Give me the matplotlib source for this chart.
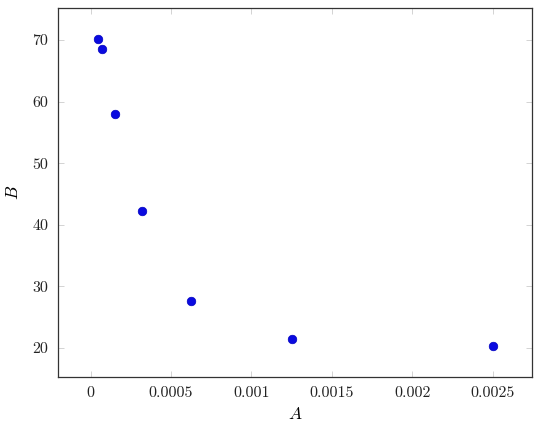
import matplotlib
matplotlib.use("Agg")
import matplotlib.pyplot as plt

A = [0.000043, 0.000073, 0.00015, 0.00032, 0.000627, 0.00125, 0.0025]
B = [70.2, 68.5, 58.0, 42.2, 27.6, 21.4, 20.3]
xticks = [0, 0.0005, 0.001, 0.0015, 0.002, 0.0025]
xticklabels = ["0", "0.0005", "0.001", "0.0015", "0.002", "0.0025"]
yticks = [20, 30, 40, 50, 60, 70]
yticklabels = ["20", "30", "40", "50", "60", "70"]

plt.rcParams['font.family'] = 'serif'
plt.rcParams['font.serif'] = ['cmr10', 'DejaVu Serif']
plt.rcParams['mathtext.fontset'] = 'cm'
plt.rcParams['axes.unicode_minus'] = False

fig = plt.figure(figsize=(5.4, 4.28), dpi=100)
ax = fig.add_axes([58/540, 51/428, 474/540, 369/428])
ax.scatter(A, B, s=38, color='#0a0ae0', edgecolors='#0000c0', linewidths=0.5, zorder=3)
ax.set_xlim(-0.000203, 0.002745)
ax.set_ylim(15.3, 75.2)
ax.set_xticks(xticks)
ax.set_xticklabels(xticklabels)
ax.set_yticks(yticks)
ax.set_yticklabels(yticklabels)
ax.tick_params(direction='in', top=True, right=True, length=4, width=0.6,
               color='#cccccc', labelsize=11.5, labelcolor='#222222', pad=7)
for s in ax.spines.values():
    s.set_linewidth(0.9)
    s.set_color('#333333')
ax.set_xlabel('$A$', fontsize=12.5, labelpad=4)
ax.set_ylabel('$B$', fontsize=12.5, labelpad=8)
fig.savefig('out.png', dpi=100)
